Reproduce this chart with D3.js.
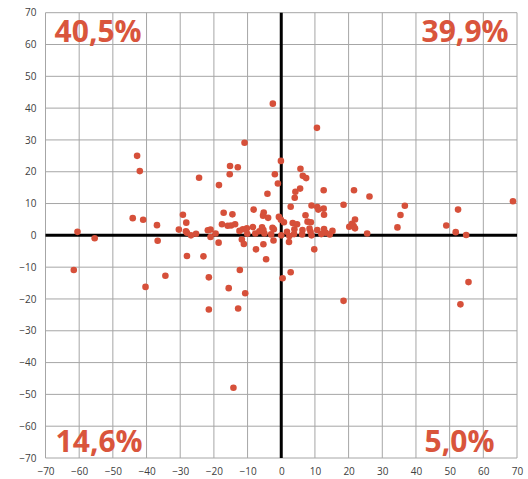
<!DOCTYPE html>
<html><head><meta charset="utf-8">
<script src="https://cdn.jsdelivr.net/npm/d3@7"></script>
<style>body{margin:0;background:#fff}svg{display:block}</style>
</head><body>
<script>
const xValues = [-42.8,-42.0,-60.5,-55.4,-61.6,-44.1,-41.0,-36.9,-36.7,-34.4,-40.3,-30.4,-2.5,10.6,-10.9,
-0.1,-15.2,-12.9,5.7,-24.4,-15.3,-1.9,6.4,7.4,-18.5,-1.0,5.6,4.2,12.6,-4.1,4.0,9.0,18.5,10.7,11.0,12.6,2.8,-8.2,-17.1,-14.5,-29.2,-5.2,-5.4,-3.9,7.2,12.7,-0.7,-0.1,0.8,-28.2,-17.6,-15.9,-14.9,-13.7,3.4,4.7,7.8,8.8,
-28.3,-28.0,-26.8,-25.3,-21.8,-21.0,-21.0,-19.5,-18.6,-12.4,-11.4,-10.2,-11.7,-11.1,-10.1,-8.4,-7.7,-6.5,-5.7,-5.3,-5.0,-5.3,-7.5,-4.5,-2.6,-2.2,-3.0,-2.3,0,1.7,2.4,2.3,3.9,3.8,6.3,6.2,8.4,8.7,9.0,10.7,11.9,12.7,13.2,14.4,15.2,9.8,
-28.0,-23.1,-12.3,0.4,2.8,-21.5,-15.6,-10.7,-21.5,-12.8,18.5,20.2,
21.6,26.2,36.7,35.4,34.5,21.9,21.0,21.5,21.9,25.5,52.5,49.0,51.8,54.9,68.8,55.6,53.2,-14.2];
const yValues = [25.0,20.2,1.1,-0.9,-10.9,5.4,4.9,3.2,-1.7,-12.7,-16.2,1.8,41.4,33.8,29.1,
23.4,21.8,21.4,20.9,18.1,19.2,19.2,18.7,18.0,15.8,16.3,14.7,13.7,14.2,13.1,11.8,9.4,9.6,8.9,8.1,8.4,9.0,8.1,7.1,6.6,6.5,7.2,6.2,5.5,6.3,6.5,5.8,4.9,4.1,4.0,3.5,3.0,3.1,3.5,3.9,3.5,4.3,4.1,
1.3,0.8,0.0,0.5,1.6,1.8,-0.5,0.6,-2.3,1.4,1.9,2.2,-1.3,-2.7,0.5,2.6,0.6,1.3,2.5,1.7,0.6,-2.8,-4.4,-7.5,2.4,1.9,0.3,-1.6,0.0,1.1,-0.2,-2.1,1.9,0.4,1.7,0.3,2.1,1.1,0.0,1.7,0.4,2.0,0.8,0.3,1.4,-4.4,
-6.5,-6.6,-10.9,-13.5,-11.6,-13.2,-16.6,-18.2,-23.3,-23.0,-20.6,2.7,
14.2,12.2,9.3,6.4,2.5,5.0,3.6,2.9,2.2,0.6,8.1,3.1,1.0,0.1,10.7,-14.7,-21.7,-47.9];
const tickValues = [-70,-60,-50,-40,-30,-20,-10,0,10,20,30,40,50,60,70];
const quadrantLabels = ["40,5%","39,9%","14,6%","5,0%"];

const W = 528, H = 479;
const L = 45.5, R = 517, T = 12.7, B = 458;
const svg = d3.select("body").append("svg").attr("width",W).attr("height",H);
const x = d3.scaleLinear().domain([-70,70]).range([L,R]);
const y = d3.scaleLinear().domain([-70,70]).range([B,T]);
const grid = "#a6a6a6";

// gridlines
svg.append("g").selectAll("line.v").data(tickValues).join("line")
  .attr("x1",d=>x(d)).attr("x2",d=>x(d)).attr("y1",T).attr("y2",B)
  .attr("stroke",grid).attr("stroke-width",1);
svg.append("g").selectAll("line.h").data(tickValues).join("line")
  .attr("y1",d=>y(d)).attr("y2",d=>y(d)).attr("x1",L).attr("x2",R)
  .attr("stroke",grid).attr("stroke-width",1);

// axis tick labels
const xa = d3.axisBottom(x).tickValues(tickValues).tickSize(0).tickPadding(10).tickFormat(d3.format("d"));
const gx = svg.append("g").attr("transform",`translate(0,${B})`).call(xa);
gx.select(".domain").remove();
gx.selectAll("text").attr("font-family","'Open Sans', sans-serif").attr("font-size",10).attr("fill","#404040");
const ya = d3.axisLeft(y).tickValues(tickValues).tickSize(0).tickPadding(9).tickFormat(d3.format("d"));
const gy = svg.append("g").attr("transform",`translate(${L},0)`).call(ya);
gy.select(".domain").remove();
gy.selectAll("text").attr("font-family","'Open Sans', sans-serif").attr("font-size",10).attr("fill","#404040");

// zero axes
svg.append("line").attr("x1",x(0)).attr("x2",x(0)).attr("y1",T).attr("y2",B).attr("stroke","#000").attr("stroke-width",3);
svg.append("line").attr("y1",y(0)).attr("y2",y(0)).attr("x1",L).attr("x2",R).attr("stroke","#000").attr("stroke-width",3);

// points
const pts = xValues.map((v,i)=>({x:v,y:yValues[i]}));
svg.append("g").selectAll("circle").data(pts).join("circle")
  .attr("cx",d=>x(d.x)).attr("cy",d=>y(d.y)).attr("r",3.3).attr("fill","#d6503a");

// quadrant labels
const qpos = [
  {t:quadrantLabels[0], x:x(-67.3), y:y(60.8), a:"start"},
  {t:quadrantLabels[1], x:x(67.5), y:y(60.8), a:"end"},
  {t:quadrantLabels[2], x:x(-67.0), y:y(-68.0), a:"start"},
  {t:quadrantLabels[3], x:x(63.3), y:y(-68.0), a:"end"}
];
svg.append("g").selectAll("text").data(qpos).join("text")
  .attr("x",d=>d.x).attr("y",d=>d.y).attr("text-anchor",d=>d.a)
  .attr("font-family","'Open Sans', sans-serif").attr("font-weight","bold").attr("font-size",30)
  .attr("fill","#d9553c").text(d=>d.t);
</script>
</body></html>
